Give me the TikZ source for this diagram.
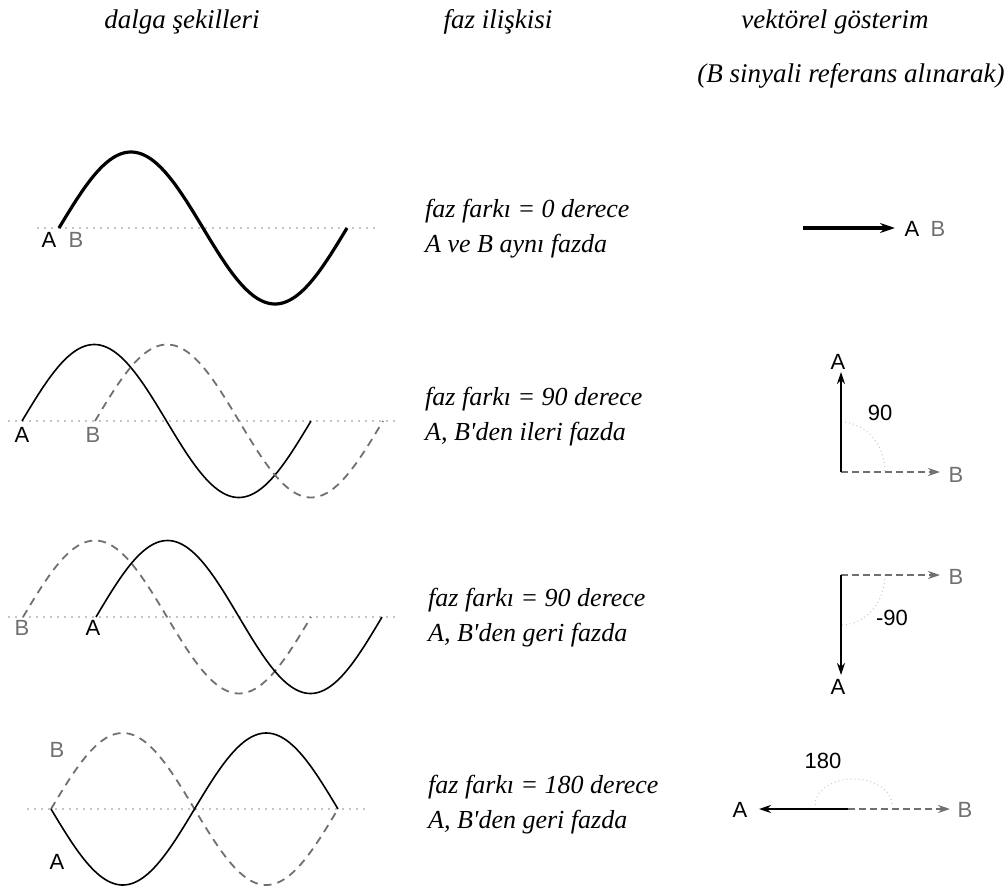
\documentclass[tikz,border=0pt]{standalone}
\usepackage{fontspec}
\setmainfont{Liberation Serif}[Ligatures=TeXOff]
\newfontfamily\labfont{Liberation Sans}
\usetikzlibrary{arrows.meta}
\definecolor{bgray}{HTML}{707070}
\definecolor{axgray}{HTML}{C4C4C4}
\definecolor{arcgray}{HTML}{C8C8C8}
\begin{document}
\begin{tikzpicture}[x=1pt,y=-1pt,
  head/.style={anchor=base,inner sep=0pt,font=\fontsize{27}{27}\selectfont\itshape},
  phase/.style={anchor=base west,inner sep=0pt,font=\fontsize{26}{26}\selectfont\itshape},
  lblA/.style={inner sep=0pt,font=\labfont\fontsize{22}{22}\selectfont,text=black},
  lblB/.style={inner sep=0pt,font=\labfont\fontsize{22}{22}\selectfont,text=bgray},
  axisline/.style={draw=axgray,line width=2pt,dash pattern=on 2pt off 5pt},
  waveA/.style={draw=black,line width=1.6pt},
  waveAthick/.style={draw=black,line width=3.2pt},
  waveB/.style={draw=bgray,line width=1.8pt,dash pattern=on 8pt off 6pt},
  vecA/.style={draw=black,line width=2pt,-{Stealth[length=12pt,width=8pt]}},
  vecAthick/.style={draw=black,line width=3.8pt,-{Stealth[length=15pt,width=10pt]}},
  vecB/.style={draw=bgray,line width=2pt,dash pattern=on 7pt off 4pt,-{Stealth[length=12pt,width=8pt,color=bgray]}},
  arcdot/.style={draw=arcgray,line width=1pt,dash pattern=on 1pt off 3pt}
]
\useasboundingbox (0,0) rectangle (1007,891);

% headers
\node[head] (h1) at (182,29) {dalga şekilleri};
\node[head] (h2) at (498,29) {faz ilişkisi};
\node[head] (h3) at (835,29) {vektörel gösterim};
\node[head] (h4) at (851,83) {(B sinyali referans alınarak)};

% ---------- row 1 ----------
\draw[axisline] (37,228) -- (375,228);
\draw[waveAthick] plot[domain=59:347,samples=120] (\x,{228-76*sin((\x-59)/288*360)});
\node[lblA] (r1A) at (49,240) {A};
\node[lblB] (r1B) at (76,240) {B};
\node[phase] (p1a) at (425,217) {faz farkı = 0 derece};
\node[phase] (p1b) at (425,252) {A ve B aynı fazda};
\coordinate (v1o) at (803,228);
\coordinate (v1t) at (895,228);
\draw[vecAthick] (v1o) -- (v1t);
\node[lblA] (v1A) at (912,229) {A};
\node[lblB] (v1B) at (938,229) {B};

% ---------- row 2 ----------
\draw[axisline] (8,421) -- (400,421);
\draw[waveA] plot[domain=22:311,samples=120] (\x,{421-76.5*sin((\x-22)/289*360)});
\draw[waveB] plot[domain=95:383,samples=120] (\x,{421-76.5*sin((\x-95)/288*360)});
\node[lblA] (r2A) at (22,435) {A};
\node[lblB] (r2B) at (93,435) {B};
\node[phase] (p2a) at (425,405) {faz farkı = 90 derece};
\node[phase] (p2b) at (425,440) {A, B'den ileri fazda};
\coordinate (v2o) at (841,472);
\coordinate (v2a) at (841,372);
\coordinate (v2b) at (940,472);
\draw[arcdot] (841,422) arc[start angle=-90,end angle=0,x radius=44,y radius=50];
\draw[vecB] (v2o) -- (v2b);
\draw[vecA] (v2o) -- (v2a);
\node[lblA] (v2A) at (838,362) {A};
\node[lblB] (v2B) at (956,475) {B};
\node[lblA] (v2n) at (880,413) {90};

% ---------- row 3 ----------
\draw[axisline] (8,617) -- (400,617);
\draw[waveB] plot[domain=23:311,samples=120] (\x,{617-76.5*sin((\x-23)/288*360)});
\draw[waveA] plot[domain=96:382,samples=120] (\x,{617-76.5*sin((\x-96)/286*360)});
\node[lblB] (r3B) at (22,628) {B};
\node[lblA] (r3A) at (93,628) {A};
\node[phase] (p3a) at (428,606) {faz farkı = 90 derece};
\node[phase] (p3b) at (428,641) {A, B'den geri fazda};
\coordinate (v3o) at (841,575);
\coordinate (v3a) at (841,675);
\coordinate (v3b) at (940,575);
\draw[arcdot] (885,575) arc[start angle=0,end angle=90,x radius=44,y radius=50];
\draw[vecB] (v3o) -- (v3b);
\draw[vecA] (v3o) -- (v3a);
\node[lblB] (v3B) at (956,577) {B};
\node[lblA] (v3A) at (838,687) {A};
\node[lblA] (v3n) at (892,618) {-90};

% ---------- row 4 ----------
\draw[axisline] (27,809) -- (367,809);
\draw[waveB] plot[domain=51:338,samples=120] (\x,{809-76*sin((\x-51)/287*360)});
\draw[waveA] plot[domain=51:338,samples=120] (\x,{809+76*sin((\x-51)/287*360)});
\node[lblB] (r4B) at (57,750) {B};
\node[lblA] (r4A) at (57,862) {A};
\node[phase] (p4a) at (428,793) {faz farkı = 180 derece};
\node[phase] (p4b) at (428,828) {A, B'den geri fazda};
\coordinate (v4o) at (848,809);
\coordinate (v4a) at (759,809);
\coordinate (v4b) at (950,809);
\draw[arcdot] (815,805) arc[start angle=180,end angle=360,x radius=38.5,y radius=26];
\draw[vecB] (v4o) -- (v4b);
\draw[vecA] (v4o) -- (v4a);
\node[lblA] (v4A) at (740,810) {A};
\node[lblB] (v4B) at (965,810) {B};
\node[lblA] (v4n) at (823,761) {180};
\end{tikzpicture}
\end{document}
